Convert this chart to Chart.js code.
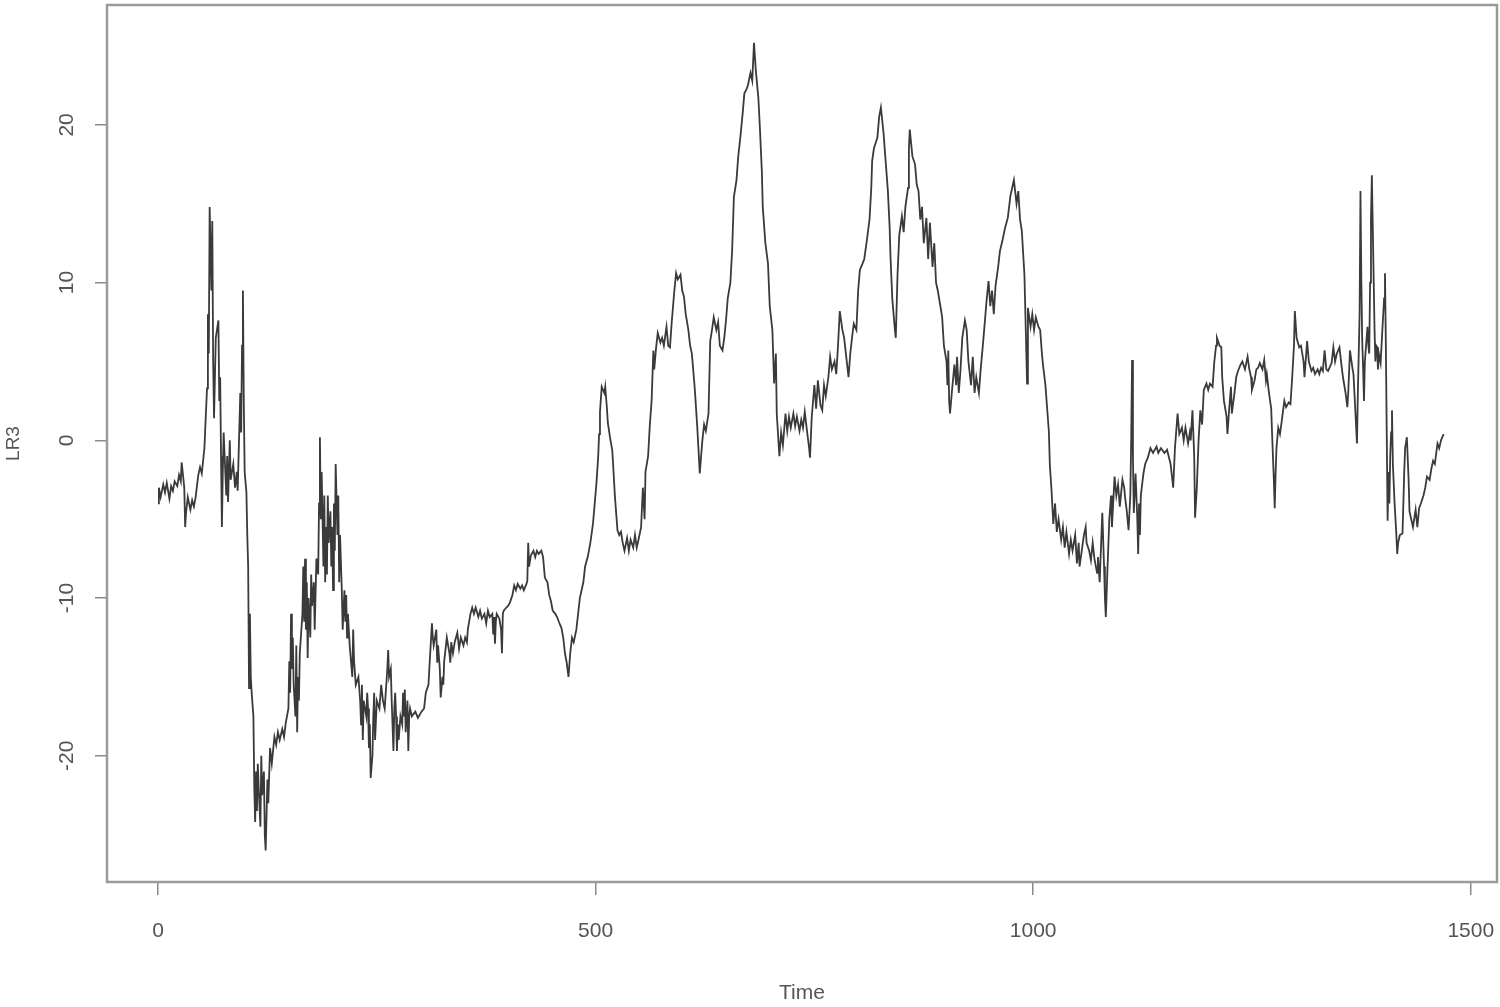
<!DOCTYPE html>
<html>
<head>
<meta charset="utf-8">
<script src="https://cdn.jsdelivr.net/npm/chart.js@4"></script>
<style>
  body { margin: 0; background: #fff; }
  #wrap { width: 1500px; height: 1007px; }
</style>
</head>
<body>
<div id="wrap"><canvas id="lrChart" width="1500" height="1007"></canvas></div>
<script>
// --- data ---
const times = [
  0, 1, 3, 6, 8, 10, 13, 15, 17, 19, 22, 24, 26, 27, 30, 31, 32, 34, 37, 39,
  41, 43, 46, 48, 50, 53, 54, 56, 57, 58, 59, 61, 62, 63, 64, 66, 69, 70, 71, 72,
  73, 74, 75, 78, 79, 80, 82, 83, 86, 88, 90, 91, 94, 95, 96, 97, 98, 99, 101, 102,
  103, 104, 105, 106, 107, 109, 110, 111, 112, 113, 114, 115, 117, 118, 119, 121, 122, 123, 125, 126,
  128, 130, 133, 135, 137, 139, 142, 144, 146, 149, 150, 151, 152, 153, 154, 155, 157, 158, 159, 160,
  161, 162, 165, 166, 167, 168, 169, 170, 171, 172, 174, 175, 176, 178, 179, 181, 183, 184, 185, 186,
  187, 189, 190, 191, 192, 193, 194, 195, 197, 198, 199, 200, 201, 202, 203, 205, 206, 207, 208, 210,
  211, 213, 214, 215, 216, 217, 219, 222, 223, 224, 226, 229, 231, 232, 233, 234, 235, 238, 239, 240,
  241, 242, 243, 245, 246, 247, 248, 250, 253, 255, 257, 259, 262, 263, 264, 266, 267, 269, 270, 271,
  272, 273, 274, 275, 277, 279, 280, 281, 282, 283, 285, 286, 287, 288, 290, 294, 297, 301, 304, 306,
  309, 311, 313, 314, 315, 318, 319, 320, 322, 323, 325, 326, 327, 329, 330, 333, 334, 335, 337, 339,
  342, 344, 346, 349, 351, 353, 354, 357, 359, 361, 363, 366, 368, 370, 373, 375, 377, 379, 382, 383,
  384, 385, 386, 387, 390, 392, 393, 394, 395, 398, 400, 402, 405, 407, 409, 411, 414, 416, 418, 421,
  422, 423, 424, 426, 429, 431, 433, 435, 438, 440, 442, 445, 447, 449, 451, 454, 456, 458, 461, 463,
  465, 467, 469, 471, 473, 475, 478, 480, 482, 486, 488, 491, 494, 497, 499, 501, 503, 504, 505, 507,
  510, 511, 513, 514, 517, 519, 520, 522, 525, 527, 529, 531, 533, 536, 538, 540, 543, 545, 547, 549,
  552, 554, 556, 557, 560, 562, 564, 566, 567, 569, 571, 574, 576, 578, 581, 583, 585, 587, 590, 592,
  594, 597, 599, 601, 603, 606, 608, 610, 613, 614, 616, 618, 619, 622, 624, 626, 629, 631, 633, 635,
  638, 640, 642, 645, 647, 649, 651, 654, 656, 658, 661, 663, 665, 668, 670, 672, 674, 677, 679, 681,
  683, 686, 688, 690, 691, 694, 697, 699, 702, 704, 706, 707, 710, 712, 714, 717, 719, 721, 723, 726,
  728, 730, 733, 735, 737, 739, 742, 744, 745, 747, 750, 752, 754, 757, 759, 761, 763, 766, 768, 770,
  773, 775, 777, 779, 782, 784, 786, 789, 791, 793, 795, 798, 800, 802, 805, 807, 810, 813, 815, 816,
  818, 822, 824, 826, 829, 831, 834, 836, 837, 839, 842, 843, 845, 847, 850, 852, 854, 857, 858, 859,
  862, 865, 867, 869, 871, 873, 875, 878, 880, 882, 885, 887, 889, 891, 894, 896, 898, 901, 902, 903,
  904, 905, 907, 910, 912, 913, 915, 917, 919, 922, 924, 926, 929, 931, 933, 935, 938, 940, 942, 944,
  947, 949, 951, 953, 955, 957, 960, 962, 965, 968, 971, 974, 976, 978, 981, 983, 985, 987, 990, 992,
  993, 994, 997, 999, 1001, 1003, 1006, 1008, 1010, 1011, 1014, 1016, 1018, 1019, 1021, 1023, 1025, 1027, 1029, 1032,
  1034, 1036, 1038, 1041, 1043, 1045, 1048, 1050, 1052, 1053, 1056, 1058, 1060, 1061, 1064, 1066, 1068, 1070, 1073, 1074,
  1076, 1078, 1079, 1081, 1082, 1083, 1085, 1087, 1089, 1090, 1093, 1095, 1097, 1099, 1102, 1104, 1105, 1107, 1109, 1111,
  1112, 1113, 1114, 1115, 1117, 1119, 1120, 1121, 1122, 1123, 1126, 1128, 1131, 1134, 1137, 1141, 1143, 1146, 1150, 1153,
  1157, 1160, 1162, 1165, 1167, 1170, 1172, 1174, 1177, 1179, 1180, 1182, 1184, 1185, 1187, 1189, 1191, 1193, 1195, 1198,
  1200, 1202, 1205, 1207, 1209, 1210, 1213, 1215, 1216, 1218, 1221, 1222, 1224, 1226, 1227, 1230, 1232, 1234, 1237, 1239,
  1242, 1245, 1247, 1249, 1250, 1253, 1255, 1257, 1259, 1262, 1264, 1266, 1267, 1269, 1272, 1273, 1275, 1276, 1277, 1278,
  1280, 1282, 1284, 1287, 1289, 1292, 1294, 1296, 1298, 1299, 1301, 1302, 1304, 1306, 1309, 1310, 1312, 1313, 1315, 1318,
  1320, 1322, 1325, 1327, 1329, 1331, 1333, 1335, 1337, 1341, 1343, 1345, 1347, 1350, 1352, 1354, 1357, 1359, 1360, 1362,
  1365, 1366, 1368, 1370, 1371, 1373, 1374, 1375, 1376, 1377, 1378, 1379, 1382, 1383, 1384, 1385, 1386, 1387, 1389, 1390,
  1391, 1392, 1393, 1394, 1395, 1397, 1399, 1401, 1402, 1403, 1405, 1406, 1407, 1408, 1409, 1410, 1411, 1413, 1415, 1416,
  1417, 1419, 1422, 1423, 1424, 1425, 1427, 1429, 1430, 1432, 1434, 1437, 1439, 1441, 1443, 1446, 1448, 1450, 1453, 1455,
  1457, 1459, 1462, 1464, 1466, 1469
];

const lr3 = [
  -4.0, -3.0, -3.6, -2.8, -3.3, -2.7, -3.7, -2.9, -3.2, -2.6, -2.9, -2.2, -2.6, -1.4, -3.0, -5.5, -4.6, -3.6, -4.4, -3.8,
  -4.2, -3.6, -2.2, -1.7, -2.1, -0.5, 0.8, 3.3, 8.0, 5.5, 14.8, 9.5, 13.9, 5.0, 1.4, 6.5, 7.6, 2.5, 4.0, -1.0,
  -5.5, -2.0, 0.5, -3.5, -1.0, -3.9, 0.0, -2.5, -1.5, -3.0, -2.0, -3.2, 3.0, 0.5, 6.0, 9.5, 2.5, -2.0, -3.3, -6.0,
  -8.0, -15.7, -11.0, -15.0, -16.0, -17.5, -22.0, -24.2, -21.0, -23.5, -20.5, -22.0, -24.5, -20.0, -22.5, -21.0, -25.0, -26.0, -21.5, -23.0,
  -19.5, -20.5, -18.8, -19.3, -18.5, -19.0, -18.3, -18.8, -17.9, -17.0, -14.0, -16.0, -11.0, -14.5, -12.5, -15.5, -17.5, -13.0, -18.5, -15.0,
  -16.5, -13.5, -11.0, -8.0, -11.5, -7.5, -12.0, -9.0, -13.8, -10.0, -12.5, -8.5, -10.5, -9.0, -12.0, -7.5, -8.5, -4.0, 0.2, -5.0,
  -2.0, -8.0, -3.5, -9.0, -5.5, -8.5, -3.5, -6.5, -4.5, -8.0, -5.5, -9.5, -4.0, -7.0, -1.5, -6.0, -3.5, -9.0, -6.0, -9.5,
  -12.0, -9.5, -11.5, -9.8, -12.5, -11.0, -13.0, -15.0, -12.0, -14.0, -15.5, -15.0, -16.5, -18.0, -15.5, -19.0, -16.5, -17.5, -16.0, -17.0,
  -19.5, -18.0, -21.4, -20.0, -17.5, -16.0, -19.0, -16.5, -17.0, -15.5, -16.5, -17.0, -14.5, -13.3, -15.0, -14.5, -16.5, -19.7, -17.0, -16.0,
  -17.5, -19.7, -18.0, -19.0, -17.5, -18.0, -16.0, -17.5, -15.8, -18.5, -16.5, -19.7, -17.5, -17.0, -17.5, -17.2, -17.6, -17.2, -17.0, -16.0,
  -15.5, -13.5, -11.6, -12.5, -13.0, -12.0, -14.1, -13.0, -14.5, -16.3, -15.0, -15.5, -14.0, -13.0, -12.5, -13.5, -14.1, -12.8, -13.5, -12.8,
  -12.2, -13.2, -12.5, -13.0, -12.5, -12.8, -12.0, -11.0, -10.6, -11.0, -10.6, -11.2, -10.8, -11.3, -11.0, -11.6, -10.8, -11.2, -11.0, -12.3,
  -11.2, -12.9, -11.5, -11.0, -11.3, -12.0, -13.5, -11.0, -10.8, -10.6, -10.5, -10.3, -9.8, -9.2, -9.5, -9.1, -9.4, -9.2, -9.5, -9.1,
  -8.9, -6.5, -8.0, -7.3, -7.0, -7.4, -7.0, -7.2, -7.0, -7.4, -8.7, -9.0, -9.8, -10.2, -10.8, -11.0, -11.2, -11.5, -11.9, -12.5,
  -13.5, -14.1, -15.0, -13.5, -12.5, -12.8, -12.0, -11.0, -10.0, -9.0, -8.0, -7.4, -6.5, -5.3, -4.0, -2.7, -1.0, 0.4, 1.8, 3.4,
  3.0, 3.4, 2.0, 1.1, 0.0, -0.6, -1.5, -3.5, -5.7, -6.0, -5.8, -6.5, -7.0, -6.2, -7.0, -6.3, -6.8, -6.0, -6.8, -6.3,
  -5.5, -3.0, -5.0, -2.0, -1.0, 1.0, 2.5, 5.7, 4.5, 5.8, 6.8, 6.2, 6.5, 6.0, 7.2, 6.0, 5.9, 7.5, 9.5, 10.6,
  10.2, 10.5, 9.5, 9.1, 8.0, 7.0, 6.0, 5.5, 3.5, 2.7, 1.0, -1.0, -2.1, 0.0, 1.0, 0.6, 1.7, 6.3, 7.0, 7.8,
  7.0, 7.5, 6.0, 5.7, 6.5, 7.6, 9.0, 10.0, 12.0, 15.4, 16.5, 18.0, 19.0, 20.7, 22.0, 22.2, 22.5, 23.3, 22.8, 25.2,
  23.5, 21.7, 19.5, 17.0, 14.8, 12.5, 11.2, 8.5, 7.0, 3.6, 5.5, 1.7, -1.0, 0.5, -0.3, 1.7, 0.6, 1.5, 0.8, 1.7,
  0.9, 1.5, 0.6, 1.3, 0.8, 1.8, 0.4, -0.5, -1.1, 1.5, 3.5, 2.0, 3.8, 2.2, 1.9, 3.5, 2.8, 4.0, 5.3, 4.5,
  5.0, 4.2, 6.0, 8.2, 7.0, 6.5, 5.5, 4.0, 5.5, 6.5, 7.4, 7.0, 9.5, 10.8, 11.2, 11.5, 12.7, 14.0, 16.0, 17.7,
  18.5, 19.2, 20.5, 21.1, 19.5, 18.0, 15.8, 13.5, 11.6, 9.0, 7.0, 6.5, 10.5, 13.0, 14.2, 13.2, 14.8, 16.0, 18.5, 19.7,
  18.0, 17.5, 16.2, 15.8, 14.0, 14.8, 12.5, 14.1, 11.5, 13.8, 11.0, 12.5, 10.0, 9.5, 8.5, 7.8, 6.0, 5.0, 3.5, 5.7,
  2.5, 1.7, 3.0, 4.8, 3.5, 5.3, 3.0, 4.5, 6.5, 7.6, 7.0, 5.0, 3.5, 5.3, 3.0, 4.0, 3.0, 4.5, 5.7, 7.0,
  9.0, 10.1, 8.5, 9.5, 8.0, 9.8, 11.0, 12.0, 12.7, 13.5, 14.1, 15.5, 16.0, 16.5, 15.0, 15.8, 14.0, 13.3, 10.5, 6.0,
  3.6, 8.4, 7.2, 8.0, 7.0, 7.8, 7.2, 7.0, 5.5, 4.9, 3.5, 2.0, 0.5, -1.5, -3.2, -5.3, -4.0, -5.8, -5.0, -6.3,
  -5.5, -6.8, -5.8, -7.2, -6.3, -7.0, -6.0, -7.8, -6.5, -8.0, -6.8, -6.0, -5.5, -6.5, -7.0, -7.6, -6.5, -7.5, -8.4, -7.4,
  -9.0, -6.0, -4.6, -8.0, -10.0, -11.2, -8.0, -5.0, -3.5, -5.5, -2.3, -3.5, -2.8, -4.2, -2.5, -3.0, -3.6, -4.5, -5.7, -3.5,
  0.0, 5.1, -1.0, -4.6, -2.1, -5.0, -7.2, -4.0, -6.0, -3.5, -2.1, -1.5, -1.1, -0.5, -0.8, -0.4, -0.8, -0.5, -0.8, -0.6,
  -1.5, -3.0, -0.5, 1.7, 0.4, 0.8, 0.0, 0.8, -0.2, 0.5, 0.0, 1.9, -1.0, -4.9, -3.0, 0.0, 1.9, 1.0, 3.2, 3.6,
  3.2, 3.6, 3.4, 5.0, 6.0, 6.5, 6.0, 5.9, 4.0, 2.5, 1.5, 0.4, 2.0, 3.4, 1.7, 3.0, 4.0, 4.4, 4.8, 5.0,
  4.5, 5.3, 4.5, 4.0, 3.2, 3.8, 4.5, 4.6, 4.9, 4.5, 5.1, 3.8, 4.2, 3.2, 2.0, 0.4, -2.5, -4.3, -2.1, -0.5,
  0.8, 0.4, 1.2, 2.5, 2.1, 2.4, 2.3, 4.0, 6.0, 8.2, 6.5, 6.3, 5.9, 6.0, 5.0, 4.0, 5.5, 6.3, 5.0, 4.4,
  4.6, 4.2, 4.5, 4.2, 4.6, 4.4, 5.7, 4.5, 4.4, 4.9, 5.9, 5.0, 5.5, 5.9, 4.9, 4.0, 3.0, 2.1, 3.0, 5.7,
  4.5, 4.2, 2.0, -0.2, 3.0, 8.0, 15.8, 10.0, 6.3, 4.6, 2.5, 5.0, 7.2, 6.0, 5.5, 10.0, 14.0, 16.8, 10.5, 7.2,
  5.0, 6.0, 5.9, 4.5, 5.5, 4.9, 7.0, 9.0, 10.6, 6.0, -5.1, -2.0, -4.0, -1.0, 0.5, 1.9, -1.5, -4.0, -6.0, -7.2,
  -6.5, -6.0, -5.9, -4.0, -2.0, -0.5, 0.2, -2.5, -4.5, -5.0, -5.5, -4.4, -5.5, -4.3, -4.0, -3.5, -3.0, -2.3, -2.5, -1.8,
  -1.3, -1.5, -0.2, -0.5, 0.0, 0.4
];

const xTickValues = [0, 500, 1000, 1500];
const yTickValues = [-20, -10, 0, 10, 20];

// R-like plot box around the data region, plus rotated y tick labels
const boxPlugin = {
  id: "rBox",
  afterDraw(chart) {
    const { ctx, chartArea } = chart;
    const yScale = chart.scales.y;
    ctx.save();
    ctx.strokeStyle = "#9a9a9a";
    ctx.lineWidth = 2.5;
    ctx.strokeRect(chartArea.left, chartArea.top,
      chartArea.right - chartArea.left, chartArea.bottom - chartArea.top);

    ctx.fillStyle = "#555";
    ctx.font = "21px 'Liberation Sans', Arial, sans-serif";
    ctx.textAlign = "center";
    ctx.textBaseline = "middle";
    yTickValues.forEach(v => {
      const py = yScale.getPixelForValue(v);
      ctx.save();
      ctx.translate(67, py);
      ctx.rotate(-Math.PI / 2);
      ctx.fillText(String(v), 0, 0);
      ctx.restore();
    });
    ctx.restore();
  },
};

const points = times.map((t, i) => ({ x: t, y: lr3[i] }));

new Chart(document.getElementById("lrChart").getContext("2d"), {
  type: "line",
  data: {
    datasets: [{
      label: "LR3",
      data: points,
      borderColor: "#3a3a3a",
      borderWidth: 1.8,
      pointRadius: 0,
      tension: 0,
      fill: false,
    }],
  },
  options: {
    responsive: false,
    animation: false,
    layout: { padding: { top: 5, right: 3, left: 0, bottom: 0 } },
    plugins: {
      legend: { display: false },
      tooltip: { enabled: false },
    },
    scales: {
      x: {
        type: "linear",
        min: -58.3,
        max: 1530,
        afterBuildTicks: scale => { scale.ticks = xTickValues.map(v => ({ value: v })); },
        afterFit: scale => {
          scale.height = 125;
          scale.paddingLeft = 0;
          scale.paddingRight = 0;
        },
        grid: {
          drawOnChartArea: false,
          drawTicks: true,
          tickLength: 13,
          color: "#8a8a8a",
          lineWidth: 1.5,
        },
        border: { display: false },
        ticks: {
          padding: 24,
          color: "#555",
          font: { family: "'Liberation Sans', Arial, sans-serif", size: 21 },
          callback: v => String(v),
          maxRotation: 0,
        },
        title: {
          display: true,
          text: "Time",
          color: "#555",
          font: { family: "'Liberation Sans', Arial, sans-serif", size: 21 },
          padding: { top: 0, bottom: 1 },
        },
      },
      y: {
        type: "linear",
        min: -28.0,
        max: 27.6,
        afterBuildTicks: scale => { scale.ticks = yTickValues.map(v => ({ value: v })); },
        afterFit: scale => {
          scale.width = 107;
          scale.paddingTop = 0;
          scale.paddingBottom = 0;
        },
        grid: {
          drawOnChartArea: false,
          drawTicks: true,
          tickLength: 12,
          color: "#8a8a8a",
          lineWidth: 1.5,
        },
        border: { display: false },
        ticks: { display: false },
        title: {
          display: true,
          text: "LR3",
          color: "#555",
          font: { family: "'Liberation Sans', Arial, sans-serif", size: 19 },
          padding: { top: 2, bottom: 0 },
        },
      },
    },
  },
  plugins: [boxPlugin],
});
</script>
</body>
</html>
